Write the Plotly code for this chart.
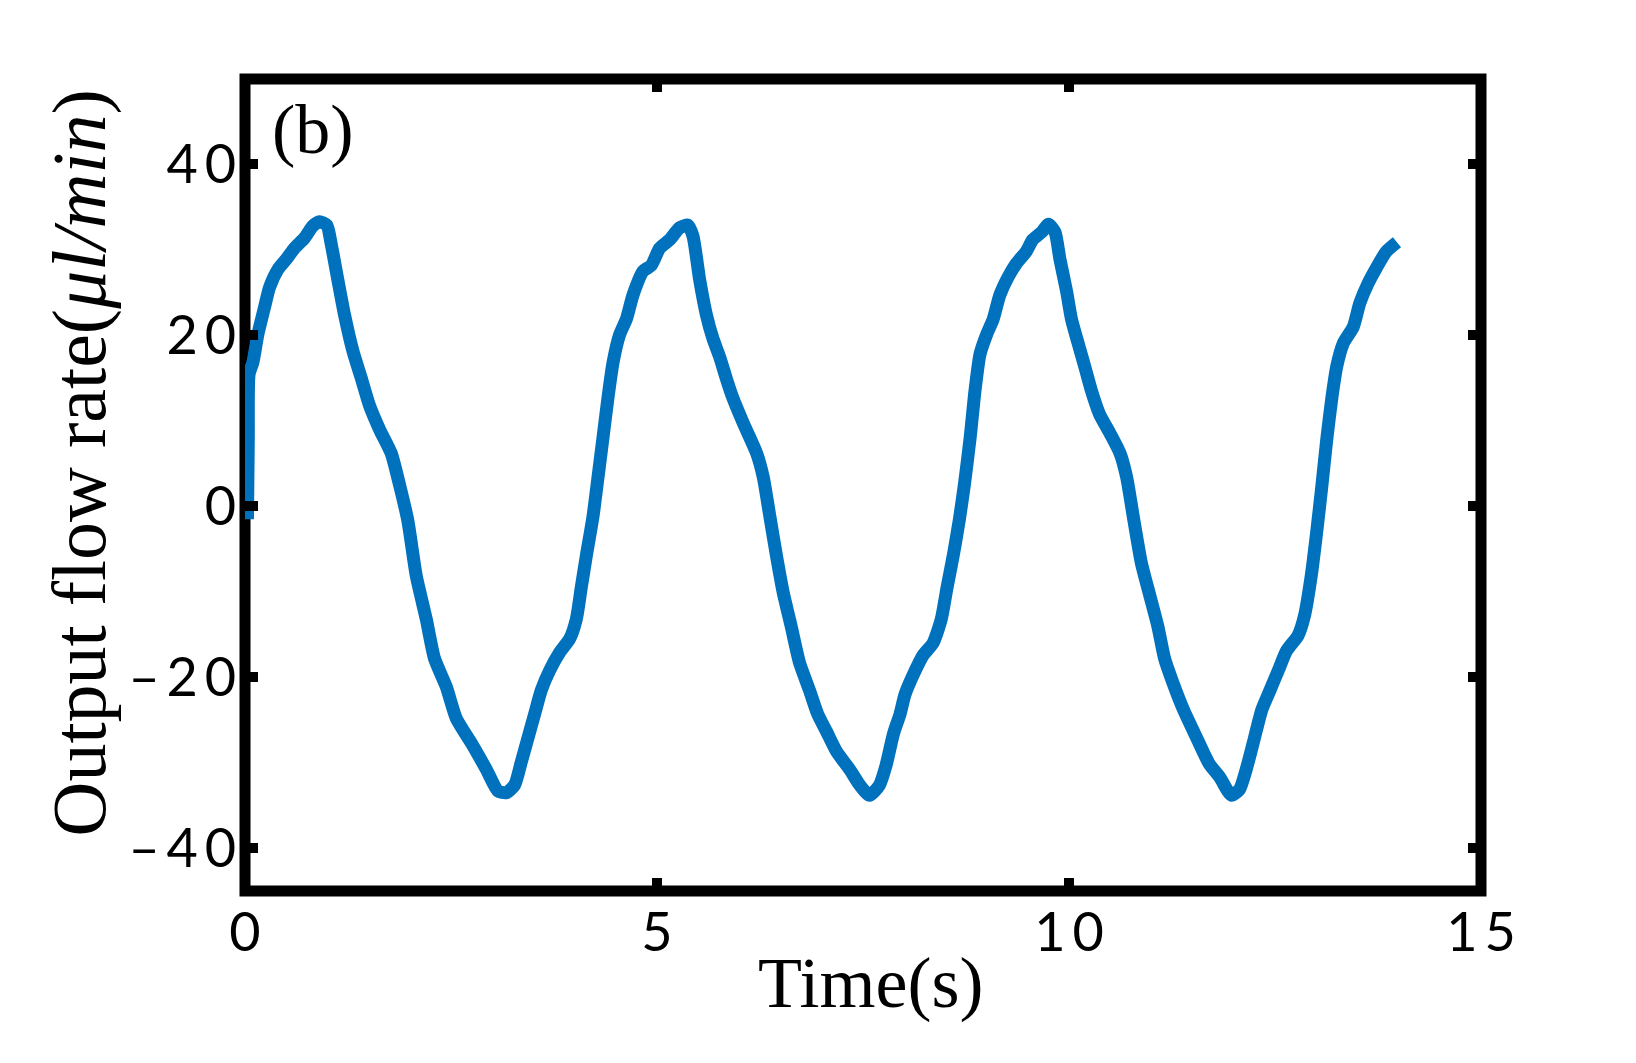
import plotly.graph_objects as go

# Time (s)
time_s = [0.03, 0.04, 0.05, 0.095, 0.156, 0.237, 0.297, 0.398, 0.50, 0.60, 0.722, 0.823, 0.904, 0.993,
          1.046, 1.127, 1.208, 1.309, 1.411, 1.511, 1.633, 1.775, 1.876, 1.977, 2.078, 2.20, 2.30,
          2.443, 2.564, 2.766, 2.93, 3.07, 3.171, 3.272, 3.353, 3.434, 3.515, 3.596, 3.697, 3.818,
          3.94, 4.021, 4.081, 4.142, 4.223, 4.284, 4.344, 4.405, 4.466, 4.547, 4.628, 4.708, 4.83,
          4.931, 5.032, 5.154, 5.275, 5.376, 5.437, 5.518, 5.60, 5.68, 5.76, 5.84, 5.92, 6.04, 6.21,
          6.29, 6.37, 6.45, 6.53, 6.63, 6.73, 6.85, 6.95, 7.06, 7.18, 7.34, 7.46, 7.58, 7.70, 7.78,
          7.87, 7.95, 8.01, 8.11, 8.23, 8.35, 8.45, 8.52, 8.60, 8.67, 8.73, 8.80, 8.86, 8.92, 9.00,
          9.08, 9.16, 9.26, 9.36, 9.48, 9.56, 9.67, 9.75, 9.83, 9.89, 9.97, 10.03, 10.11, 10.19,
          10.27, 10.37, 10.50, 10.62, 10.70, 10.78, 10.88, 10.98, 11.08, 11.16, 11.26, 11.39, 11.55,
          11.70, 11.83, 11.97, 12.07, 12.15, 12.24, 12.34, 12.44, 12.54, 12.64, 12.78, 12.86, 12.94,
          13.00, 13.07, 13.13, 13.19, 13.25, 13.33, 13.45, 13.53, 13.63, 13.73, 13.85, 13.98]

# Output flow rate (ul/min)
flow = [-1.5, 8.0, 15.5, 16.8, 20.1, 23.3, 25.6, 27.7, 28.9, 30.2, 31.4, 32.8, 33.3, 32.9,
        30.7, 26.5, 22.4, 18.2, 15.0, 11.8, 9.0, 6.2, 2.5, -1.7, -8.1, -13.2, -17.8,
        -21.1, -24.8, -28.0, -30.8, -33.3, -33.5, -32.6, -29.9, -27.1, -24.3, -21.5, -19.2, -17.1,
        -15.5, -13.2, -9.5, -5.8, -1.2, 3.4, 8.0, 12.7, 16.8, 20.1, 21.9, 24.7, 27.5,
        28.2, 30.2, 31.2, 32.6, 32.9, 31.6, 26.5, 22.4, 19.6, 17.5, 15.0, 12.7, 9.9, 6.2,
        3.4, -1.2, -5.8, -10.0, -14.1, -18.3, -21.5, -24.3, -26.4, -28.7, -30.8, -32.6, -33.8, -32.6, -30.3,
        -26.6, -24.3, -22.0, -19.7, -17.4, -16.0, -13.2, -9.5, -5.5, -1.5, 2.5, 8.0, 13.6, 17.8, 20.1,
        21.9, 24.7, 26.8, 28.4, 29.8, 31.2, 32.1, 33.0, 32.1, 28.9, 25.2, 21.9, 19.1, 16.4,
        13.6, 10.8, 8.5, 6.2, 3.4, -1.2, -6.7, -10.4, -14.1, -17.8, -20.6, -23.8, -27.1,
        -30.1, -31.7, -33.8, -33.1, -30.8, -27.5, -23.8, -21.5, -19.2, -16.9, -15.1, -12.7, -8.1,
        -3.5, 2.5, 8.0, 12.7, 16.4, 19.1, 21.0, 23.8, 26.1, 27.9, 29.8, 30.9]

x_tickvals = [0, 5, 10, 15]
x_ticktext = ["0", "5", "1\u20090", "1\u20095"]
y_tickvals = [-40, -20, 0, 20, 40]
y_ticktext = ["\u2013\u20094\u20090", "\u2013\u20092\u20090", "0", "2\u20090", "4\u20090"]

x_title = "Time(s)"
y_title = "Output flow rate(<i>\u03bcl/min</i>)"
panel_label = "(b)"

fig = go.Figure()
fig.add_trace(go.Scatter(x=time_s, y=flow, mode="lines",
                         line=dict(color="#0072BD", width=13, shape="spline", smoothing=0.6),
                         showlegend=False))

tick_font = dict(family="Lato, 'Liberation Sans', sans-serif", size=54, color="black", weight=400)
serif = "'Liberation Serif', 'DejaVu Serif', serif"

fig.update_layout(
    width=1636, height=1063,
    margin=dict(l=245, r=155, t=79, b=172, autoexpand=False),
    paper_bgcolor="white", plot_bgcolor="white",
    xaxis=dict(range=[0, 15], tickvals=x_tickvals, ticktext=x_ticktext,
               ticks="inside", ticklen=13, tickwidth=10, tickcolor="black",
               mirror="ticks", showline=False, showgrid=False, zeroline=False,
               tickfont=tick_font, ticklabelstandoff=5),
    yaxis=dict(range=[-45, 50], tickvals=y_tickvals, ticktext=y_ticktext,
               ticks="inside", ticklen=13, tickwidth=10, tickcolor="black",
               mirror="ticks", showline=False, showgrid=False, zeroline=False,
               tickfont=tick_font, ticklabelstandoff=8),
    shapes=[dict(type="rect", xref="paper", yref="paper", x0=0, x1=1, y0=0, y1=1,
                 line=dict(color="black", width=11), layer="below")],
    annotations=[
        dict(text=x_title, xref="paper", yref="paper", x=0.5057, y=-0.113,
             xanchor="center", yanchor="middle", showarrow=False,
             font=dict(family=serif, size=72, color="black")),
        dict(text=y_title, xref="paper", yref="paper", x=-0.134, y=0.527,
             xanchor="center", yanchor="middle", showarrow=False, textangle=-90,
             font=dict(family=serif, size=76, color="black")),
        dict(text=panel_label, xref="paper", yref="paper", x=0.055, y=0.938,
             xanchor="center", yanchor="middle", showarrow=False,
             font=dict(family=serif, size=70, color="black")),
    ],
)

fig.write_html("out.html")
